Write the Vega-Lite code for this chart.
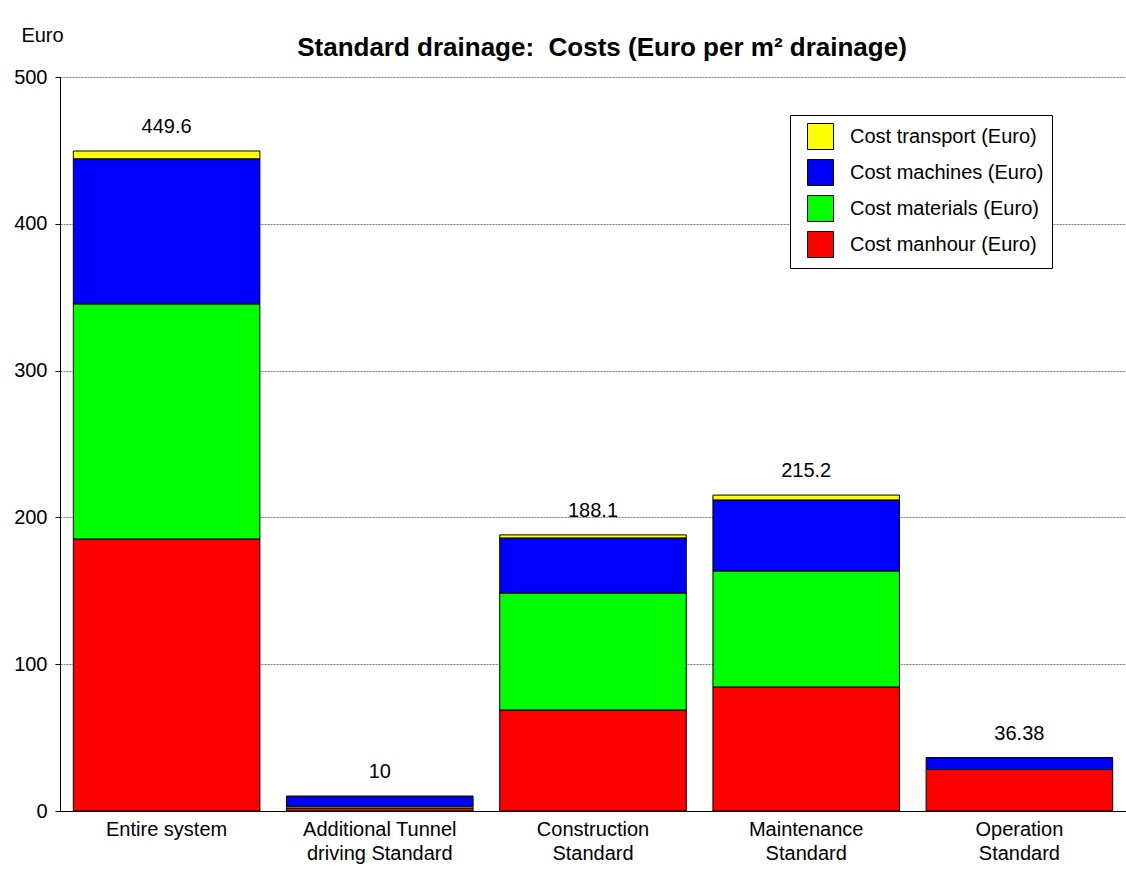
{
  "$schema": "https://vega.github.io/schema/vega-lite/v6.json",
  "width": 1066,
  "height": 734,
  "autosize": {"type": "none"},
  "padding": {"left": 60, "top": 77, "right": 0, "bottom": 58},
  "background": "white",
  "config": {
    "font": "Liberation Sans",
    "view": {"stroke": null}
  },
  "title": {
    "text": "Standard drainage:\u00a0 Costs (Euro per m² drainage)",
    "font": "Liberation Sans",
    "fontSize": 26,
    "fontWeight": "bold",
    "color": "black",
    "anchor": "middle",
    "frame": "group",
    "dx": 9,
    "offset": -36
  },
  "datasets": {
    "parts": [
      {"category": "Entire system", "cost": "Cost manhour (Euro)", "rank": 1, "value": 185.3},
      {"category": "Entire system", "cost": "Cost materials (Euro)", "rank": 2, "value": 160.1},
      {"category": "Entire system", "cost": "Cost machines (Euro)", "rank": 3, "value": 98.9},
      {"category": "Entire system", "cost": "Cost transport (Euro)", "rank": 4, "value": 5.3},
      {"category": "Additional Tunnel|driving Standard", "cost": "Cost manhour (Euro)", "rank": 1, "value": 1.9},
      {"category": "Additional Tunnel|driving Standard", "cost": "Cost materials (Euro)", "rank": 2, "value": 1.2},
      {"category": "Additional Tunnel|driving Standard", "cost": "Cost machines (Euro)", "rank": 3, "value": 6.9},
      {"category": "Additional Tunnel|driving Standard", "cost": "Cost transport (Euro)", "rank": 4, "value": 0},
      {"category": "Construction|Standard", "cost": "Cost manhour (Euro)", "rank": 1, "value": 68.8},
      {"category": "Construction|Standard", "cost": "Cost materials (Euro)", "rank": 2, "value": 79.7},
      {"category": "Construction|Standard", "cost": "Cost machines (Euro)", "rank": 3, "value": 37.5},
      {"category": "Construction|Standard", "cost": "Cost transport (Euro)", "rank": 4, "value": 2.1},
      {"category": "Maintenance|Standard", "cost": "Cost manhour (Euro)", "rank": 1, "value": 84.5},
      {"category": "Maintenance|Standard", "cost": "Cost materials (Euro)", "rank": 2, "value": 79.0},
      {"category": "Maintenance|Standard", "cost": "Cost machines (Euro)", "rank": 3, "value": 48.4},
      {"category": "Maintenance|Standard", "cost": "Cost transport (Euro)", "rank": 4, "value": 3.3},
      {"category": "Operation|Standard", "cost": "Cost manhour (Euro)", "rank": 1, "value": 28.3},
      {"category": "Operation|Standard", "cost": "Cost materials (Euro)", "rank": 2, "value": 0},
      {"category": "Operation|Standard", "cost": "Cost machines (Euro)", "rank": 3, "value": 8.08},
      {"category": "Operation|Standard", "cost": "Cost transport (Euro)", "rank": 4, "value": 0}
    ],
    "totals": [
      {"category": "Entire system", "total": 449.6, "label": "449.6"},
      {"category": "Additional Tunnel|driving Standard", "total": 10, "label": "10"},
      {"category": "Construction|Standard", "total": 188.1, "label": "188.1"},
      {"category": "Maintenance|Standard", "total": 215.2, "label": "215.2"},
      {"category": "Operation|Standard", "total": 36.38, "label": "36.38"}
    ]
  },
  "encoding": {
    "x": {
      "field": "category",
      "type": "nominal",
      "sort": null,
      "scale": {"paddingInner": 0.125, "paddingOuter": 0.0625},
      "axis": {
        "title": null,
        "labelAngle": 0,
        "labelExpr": "split(datum.label, '|')",
        "labelFont": "Liberation Sans",
        "labelFontSize": 20,
        "labelColor": "black",
        "labelLineHeight": 24,
        "labelPadding": 8,
        "labelLimit": 300,
        "ticks": false,
        "domainColor": "black",
        "domainWidth": 1,
        "grid": false
      }
    }
  },
  "layer": [
    {
      "data": {"name": "parts"},
      "mark": {"type": "bar", "stroke": "black", "strokeWidth": 1},
      "encoding": {
        "y": {
          "field": "value",
          "type": "quantitative",
          "stack": "zero",
          "scale": {"domain": [0, 500], "nice": false},
          "axis": {
            "values": [0, 100, 200, 300, 400, 500],
            "title": "Euro",
            "titleAngle": 0,
            "titleX": -18,
            "titleY": -42,
            "titleAlign": "center",
            "titleBaseline": "middle",
            "titleFont": "Liberation Sans",
            "titleFontSize": 20,
            "titleFontWeight": "normal",
            "titleColor": "black",
            "labelFont": "Liberation Sans",
            "labelFontSize": 20,
            "labelColor": "black",
            "labelPadding": 8,
            "tickSize": 5,
            "tickColor": "black",
            "domainColor": "black",
            "grid": true,
            "gridColor": "#555555",
            "gridDash": [2, 1],
            "gridWidth": 0.8
          }
        },
        "color": {
          "field": "cost",
          "type": "nominal",
          "scale": {
            "domain": ["Cost transport (Euro)", "Cost machines (Euro)", "Cost materials (Euro)", "Cost manhour (Euro)"],
            "range": ["#ffff00", "#0000ff", "#00ff00", "#ff0000"]
          },
          "legend": {
            "title": null,
            "orient": "none",
            "legendX": 730,
            "legendY": 38,
            "direction": "vertical",
            "fillColor": "white",
            "strokeColor": "black",
            "padding": 8,
            "symbolType": "square",
            "symbolSize": 676,
            "symbolStrokeColor": "black",
            "symbolStrokeWidth": 1,
            "symbolOpacity": 1,
            "symbolOffset": 9,
            "labelOffset": 16,
            "labelFont": "Liberation Sans",
            "labelFontSize": 20,
            "labelColor": "black",
            "labelLimit": 300,
            "rowPadding": 5
          }
        },
        "order": {"field": "rank", "type": "quantitative", "sort": "ascending"}
      }
    },
    {
      "data": {"name": "totals"},
      "mark": {"type": "text", "dy": -24, "fontSize": 20, "font": "Liberation Sans", "color": "black", "baseline": "middle"},
      "encoding": {
        "y": {"field": "total", "type": "quantitative"},
        "text": {"field": "label", "type": "nominal"}
      }
    }
  ]
}
